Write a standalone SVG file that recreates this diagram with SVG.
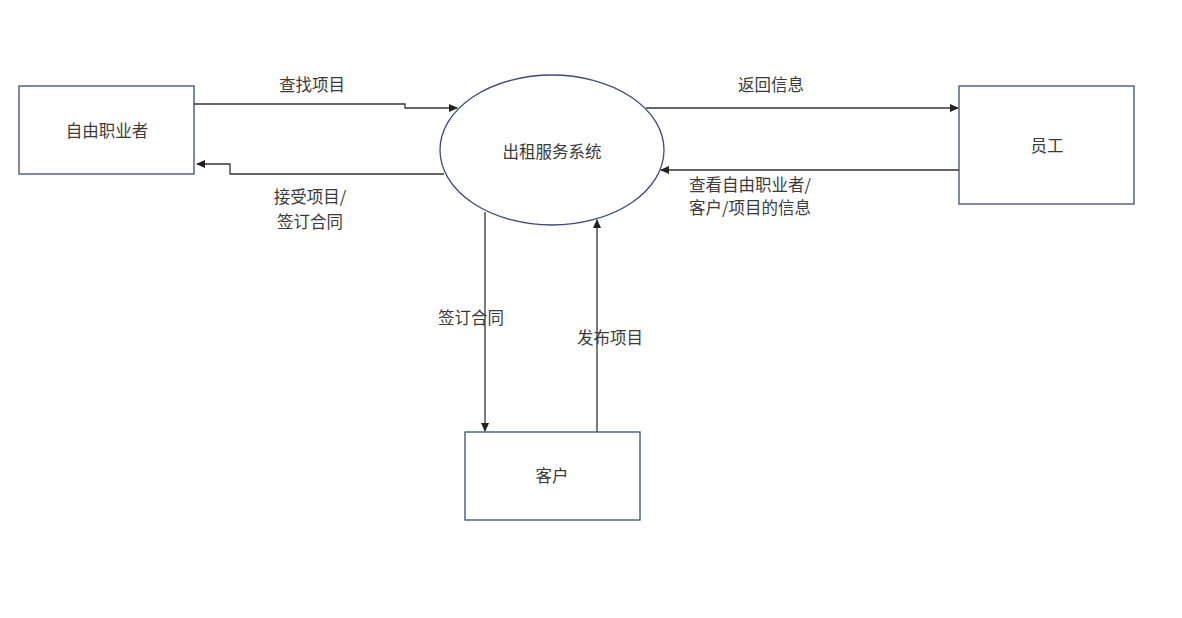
<svg xmlns="http://www.w3.org/2000/svg" width="1182" height="618" viewBox="0 0 1182 618">
<style>
.box{fill:#fff;stroke:#3b4a7a;stroke-width:1.3}
.lbl{font-family:"Noto Sans CJK SC","Noto Sans",sans-serif;font-size:16.5px;fill:#3a3a3a}
.c{text-anchor:middle}
.con{fill:none;stroke:#333;stroke-width:1.3}
</style>
<defs>
<marker id="ah" markerWidth="10" markerHeight="10" refX="8" refY="5" orient="auto" markerUnits="userSpaceOnUse">
<path d="M0,1 L9,5 L0,9 Z" fill="#222"/>
</marker>
</defs>
<rect width="1182" height="618" fill="#fff"/>
<g id="connectors">
<polyline class="con" points="194,104 405,104 405,108 457,108" marker-end="url(#ah)"/>
<polyline class="con" points="444,174 230,174 230,164 197,164" marker-end="url(#ah)"/>
<polyline class="con" points="646,108 958,108" marker-end="url(#ah)"/>
<polyline class="con" points="959,170 661,170" marker-end="url(#ah)"/>
<polyline class="con" points="485,212 485,431" marker-end="url(#ah)"/>
<polyline class="con" points="597,432 597,220" marker-end="url(#ah)"/>
<text class="lbl c" x="312" y="91">查找项目</text>
<text class="lbl c" x="310" y="203">接受项目/</text>
<text class="lbl c" x="310" y="228">签订合同</text>
<text class="lbl c" x="771" y="91">返回信息</text>
<text class="lbl" x="689" y="191">查看自由职业者/</text>
<text class="lbl" x="689" y="214">客户/项目的信息</text>
<text class="lbl c" x="471" y="324">签订合同</text>
<text class="lbl c" x="610" y="344">发布项目</text>
</g>
<g id="freelancer">
<rect class="box" x="19" y="86" width="175" height="88"/>
<text class="lbl c" x="107" y="137">自由职业者</text>
</g>
<g id="system">
<ellipse class="box" cx="552" cy="150" rx="112" ry="75"/>
<text class="lbl c" x="552" y="158">出租服务系统</text>
</g>
<g id="staff">
<rect class="box" x="959" y="86" width="175" height="118"/>
<text class="lbl c" x="1047" y="152">员工</text>
</g>
<g id="client">
<rect class="box" x="465" y="432" width="175" height="88"/>
<text class="lbl c" x="552" y="482">客户</text>
</g>
</svg>
